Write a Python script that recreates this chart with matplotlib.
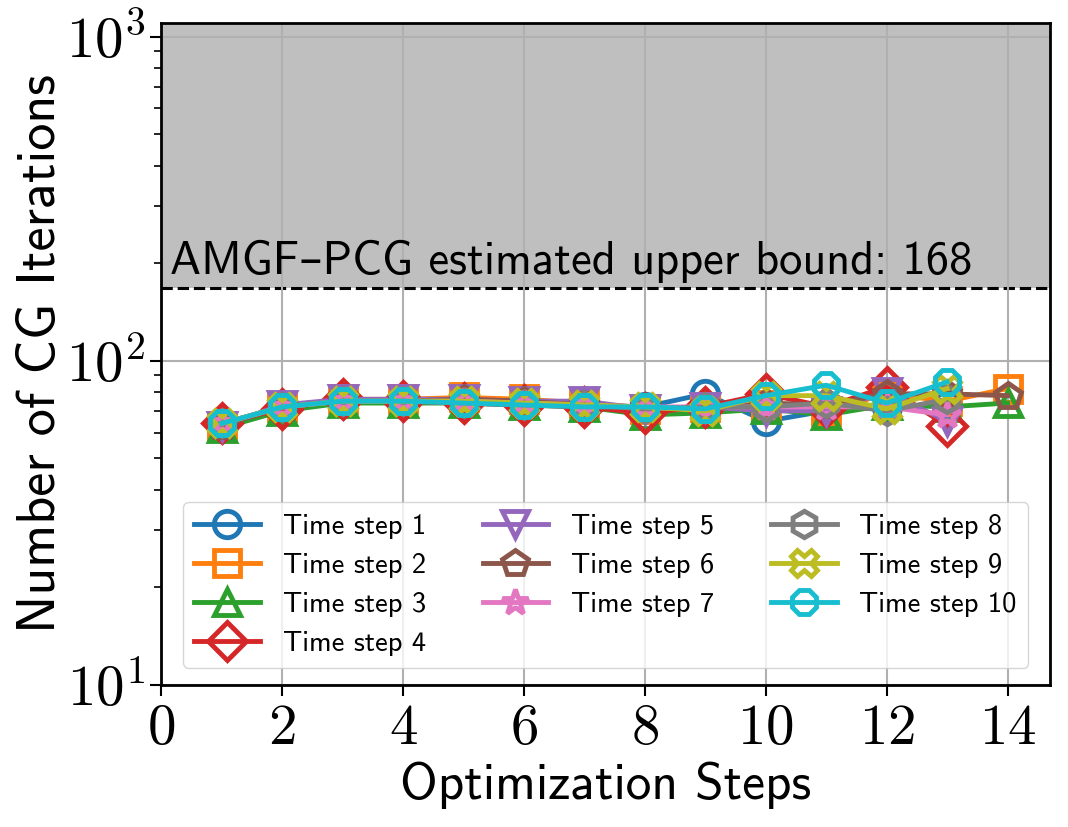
import matplotlib.pyplot as plt
import numpy as np

plt.rcParams['mathtext.fontset'] = 'cm'

labels = ['Time step %d' % i for i in range(1, 11)]
markers = ['o', 's', '^', 'D', 'v', 'p', '*', 'h', 'X', '8']

ts1 = [63, 72, 75, 75, 75, 74, 73, 72, 79, 65, 70, 72, 73]
ts2 = [63, 72, 76, 76, 77, 76, 74, 71, 72, 73, 70, 79, 75, 82]
ts3 = [62, 70, 74, 74, 74, 73, 72, 68, 69, 71, 68, 73, 72, 74]
ts4 = [64, 71, 76, 75, 74, 73, 72, 69, 72, 79, 72, 83, 63]
ts5 = [63, 73, 76, 76, 76, 75, 75, 71, 72, 70, 70, 80, 65]
ts6 = [63, 72, 75, 75, 76, 75, 73, 72, 71, 74, 73, 79, 79, 78]
ts7 = [64, 72, 75, 75, 75, 74, 73, 72, 72, 72, 72, 72, 68]
ts8 = [64, 72, 75, 75, 74, 73, 73, 71, 72, 72, 74, 70, 76]
ts9 = [64, 72, 75, 75, 75, 74, 73, 72, 70, 78, 78, 71, 82]
ts10 = [64, 72, 75, 75, 74, 73, 72, 72, 71, 78, 84, 74, 86]
series = [ts1, ts2, ts3, ts4, ts5, ts6, ts7, ts8, ts9, ts10]

bound = 168

sans = ['cmss10', 'DejaVu Sans']

fig = plt.figure(figsize=(10.68, 8.27), dpi=100)
ax = fig.add_axes([0.151, 0.172, 0.832, 0.800])

ax.axhspan(bound, 1100, color='gray', alpha=0.5, lw=0, zorder=0)
ax.axhline(bound, color='k', ls='--', lw=2.2, zorder=1)

for i, ys in enumerate(series):
    xs = np.arange(1, len(ys) + 1)
    ax.plot(xs, ys, marker=markers[i], color='C%d' % i, lw=3.5, ms=19,
            mfc='none', mew=3.5, label=labels[i], zorder=3)

ax.text(0.15, bound * 1.03, 'AMGF\u2013PCG estimated upper bound: %d' % bound,
        family=sans, fontsize=33.5, va='bottom', ha='left')

ax.set_yscale('log')
ax.set_ylim(10, 1100)
ax.set_xlim(0, 14.7)

xt = np.arange(0, 15, 2)
ax.set_xticks(xt, labels=[r'$%d$' % v for v in xt])
yt = [10, 100, 1000]
ax.set_yticks(yt, labels=[r'$10^{%d}$' % int(np.log10(v)) for v in yt])
ax.tick_params(axis='both', which='major', labelsize=41, length=8, width=1.5)
ax.tick_params(axis='y', which='minor', length=5, width=1.2)

ax.grid(True, which='major', color='#b0b0b0', lw=1.5, zorder=0)
for s in ax.spines.values():
    s.set_linewidth(2)

ax.set_xlabel('Optimization Steps', family=sans, fontsize=37, labelpad=4)
ax.set_ylabel('Number of CG Iterations', family=sans, fontsize=39, labelpad=0)

ax.legend(ncol=3, loc='lower center', prop={'family': sans, 'size': 20.5},
          handlelength=2.3, borderaxespad=0.6,
          bbox_to_anchor=(0.5, 0.0))

fig.savefig('out.png', dpi=100)
